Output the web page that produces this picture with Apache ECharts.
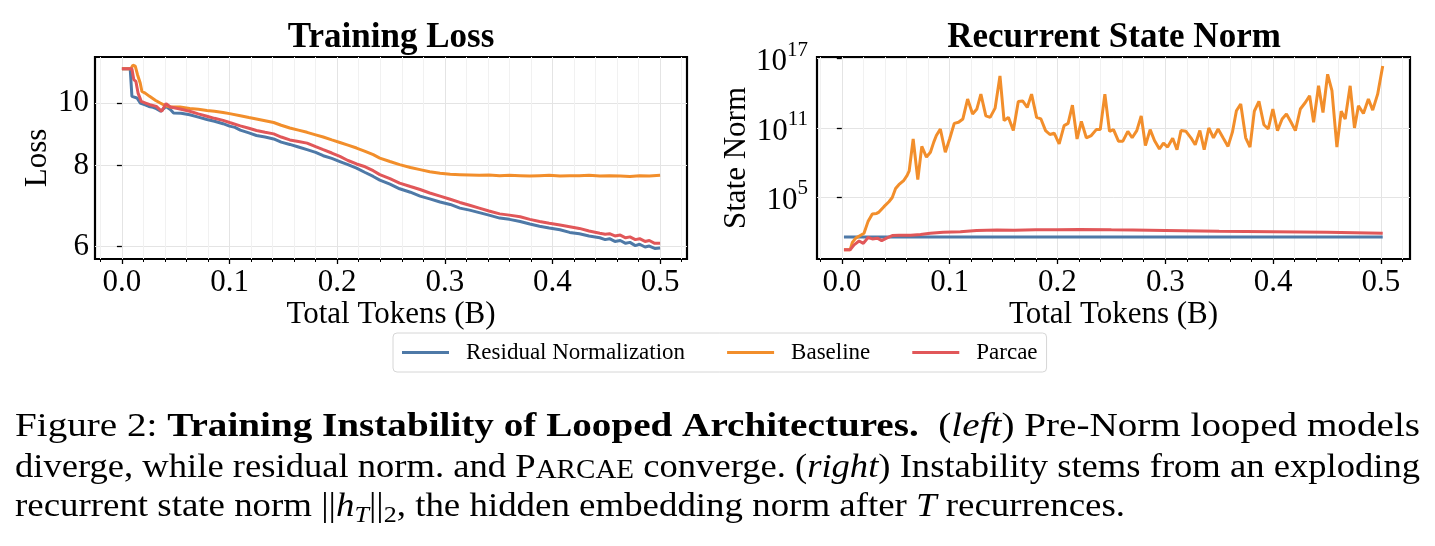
<!DOCTYPE html>
<html><head><meta charset="utf-8">
<script src="https://cdn.jsdelivr.net/npm/echarts@6/dist/echarts.min.js"></script>
<style>html,body{margin:0;padding:0;background:#fff}#c{width:1435px;height:546px}</style>
</head><body><div id="c"></div>
<script>
// ---------------- data ----------------
const seriesNames = ['Residual Normalization', 'Baseline', 'Parcae'];
const xTickValues = [0, 0.1, 0.2, 0.3, 0.4, 0.5];
const xMinorTickValues = [-0.02, 0.02, 0.04, 0.06, 0.08, 0.12, 0.14, 0.16, 0.18, 0.22, 0.24, 0.26, 0.28, 0.32, 0.34, 0.36, 0.38, 0.42, 0.44, 0.46, 0.48, 0.52];
const lossTickValues = [6, 8, 10];
const normTickValues = [1e5, 1e11, 1e17];

// Training loss (left)
const lossResidualTokens = [0, 0.0077, 0.0093, 0.014, 0.017, 0.021, 0.025, 0.029, 0.032, 0.036, 0.041, 0.045, 0.048, 0.055, 0.063, 0.071, 0.079, 0.086, 0.094, 0.1, 0.105, 0.11, 0.118, 0.125, 0.133, 0.141, 0.148, 0.156, 0.164, 0.172, 0.18, 0.187, 0.195, 0.2025, 0.21, 0.218, 0.226, 0.2335, 0.2396, 0.249, 0.258, 0.268, 0.277, 0.286, 0.2956, 0.305, 0.314, 0.323, 0.332, 0.341, 0.351, 0.36, 0.37, 0.379, 0.388, 0.397, 0.407, 0.416, 0.425, 0.434, 0.444, 0.449, 0.453, 0.458, 0.463, 0.468, 0.472, 0.477, 0.481, 0.486, 0.49, 0.495, 0.5];
const lossResidual = [11.30, 11.30, 10.24, 10.18, 10.00, 9.94, 9.88, 9.85, 9.80, 9.71, 9.88, 9.77, 9.65, 9.64, 9.59, 9.51, 9.43, 9.37, 9.29, 9.21, 9.17, 9.08, 8.99, 8.91, 8.86, 8.80, 8.70, 8.63, 8.55, 8.47, 8.39, 8.29, 8.21, 8.12, 8.03, 7.93, 7.81, 7.70, 7.60, 7.49, 7.37, 7.28, 7.18, 7.11, 7.03, 6.97, 6.88, 6.83, 6.77, 6.71, 6.64, 6.61, 6.56, 6.50, 6.45, 6.41, 6.37, 6.31, 6.28, 6.23, 6.19, 6.15, 6.17, 6.11, 6.13, 6.07, 6.09, 6.02, 6.05, 5.99, 6.01, 5.96, 5.97];

const lossBaselineTokens = [0, 0.0083, 0.0102, 0.0124, 0.0145, 0.017, 0.0186, 0.0216, 0.0257, 0.031, 0.0356, 0.0402, 0.045, 0.054, 0.063, 0.071, 0.079, 0.086, 0.094, 0.1, 0.11, 0.118, 0.125, 0.133, 0.141, 0.148, 0.156, 0.164, 0.172, 0.18, 0.187, 0.195, 0.2025, 0.21, 0.218, 0.226, 0.2335, 0.2396, 0.249, 0.258, 0.268, 0.277, 0.286, 0.2956, 0.305, 0.314, 0.323, 0.332, 0.341, 0.351, 0.36, 0.37, 0.379, 0.388, 0.397, 0.407, 0.416, 0.425, 0.434, 0.444, 0.453, 0.463, 0.472, 0.481, 0.49, 0.5];
const lossBaseline = [11.30, 11.30, 11.44, 11.40, 11.06, 10.74, 10.42, 10.36, 10.24, 10.10, 10.00, 9.91, 9.86, 9.86, 9.81, 9.78, 9.74, 9.71, 9.67, 9.63, 9.56, 9.50, 9.45, 9.39, 9.33, 9.24, 9.15, 9.08, 9.01, 8.93, 8.86, 8.77, 8.69, 8.61, 8.52, 8.42, 8.32, 8.22, 8.12, 8.03, 7.95, 7.89, 7.83, 7.79, 7.76, 7.75, 7.74, 7.73, 7.74, 7.72, 7.73, 7.72, 7.71, 7.72, 7.73, 7.71, 7.72, 7.72, 7.73, 7.71, 7.72, 7.71, 7.70, 7.72, 7.71, 7.73];

const lossParcaeTokens = [0, 0.0093, 0.011, 0.013, 0.015, 0.018, 0.022, 0.026, 0.032, 0.037, 0.041, 0.045, 0.054, 0.063, 0.071, 0.079, 0.086, 0.094, 0.1, 0.11, 0.118, 0.125, 0.133, 0.141, 0.148, 0.156, 0.164, 0.172, 0.18, 0.187, 0.195, 0.2025, 0.21, 0.218, 0.226, 0.2335, 0.2396, 0.249, 0.258, 0.268, 0.277, 0.286, 0.2956, 0.305, 0.314, 0.323, 0.332, 0.341, 0.351, 0.36, 0.37, 0.379, 0.388, 0.397, 0.407, 0.416, 0.425, 0.434, 0.444, 0.449, 0.453, 0.458, 0.463, 0.468, 0.472, 0.477, 0.481, 0.486, 0.49, 0.495, 0.5];
const lossParcae = [11.30, 11.30, 10.87, 10.80, 10.36, 10.06, 10.00, 9.94, 9.88, 9.71, 9.98, 9.86, 9.79, 9.71, 9.62, 9.54, 9.47, 9.40, 9.33, 9.22, 9.14, 9.07, 9.01, 8.96, 8.86, 8.77, 8.72, 8.67, 8.56, 8.47, 8.37, 8.27, 8.15, 8.05, 7.97, 7.86, 7.75, 7.64, 7.52, 7.43, 7.35, 7.26, 7.18, 7.10, 7.02, 6.95, 6.88, 6.81, 6.74, 6.71, 6.67, 6.61, 6.56, 6.52, 6.48, 6.44, 6.40, 6.34, 6.29, 6.27, 6.28, 6.23, 6.25, 6.19, 6.21, 6.15, 6.17, 6.11, 6.13, 6.07, 6.07];

// Recurrent state norm (right)
const normResidualTokens = [0.002, 0.1, 0.2, 0.3, 0.4, 0.5017];
const normResidual = [35, 35, 35, 35, 35, 35];

const normBaselineTokens = [0.002, 0.0077, 0.0098, 0.0129, 0.0175, 0.0206, 0.0243, 0.0283, 0.0323, 0.0345, 0.0391, 0.0437, 0.0468, 0.0499, 0.0529, 0.0576, 0.0606, 0.0625, 0.0662, 0.0705, 0.0742, 0.0785, 0.0822, 0.0853, 0.0877, 0.0914, 0.0960, 0.1000, 0.1043, 0.1083, 0.1123, 0.1167, 0.1213, 0.1253, 0.1290, 0.1336, 0.1376, 0.1422, 0.1467, 0.1505, 0.1545, 0.1591, 0.1637, 0.1677, 0.1720, 0.1760, 0.1807, 0.1847, 0.1890, 0.1930, 0.1970, 0.2016, 0.2062, 0.2099, 0.2139, 0.2182, 0.2222, 0.2268, 0.2314, 0.2360, 0.2397, 0.2440, 0.2483, 0.2520, 0.2566, 0.2607, 0.2653, 0.2693, 0.2736, 0.2777, 0.2816, 0.2860, 0.2900, 0.2946, 0.2983, 0.3022, 0.3069, 0.3109, 0.3146, 0.3192, 0.3238, 0.3278, 0.3321, 0.3361, 0.3404, 0.3447, 0.3490, 0.3536, 0.3582, 0.3623, 0.3660, 0.3700, 0.3746, 0.3786, 0.3826, 0.3869, 0.3915, 0.3955, 0.3998, 0.4041, 0.4084, 0.4124, 0.4167, 0.4207, 0.4253, 0.4299, 0.4339, 0.4376, 0.4422, 0.4463, 0.4506, 0.4546, 0.4592, 0.4632, 0.4669, 0.4715, 0.4755, 0.4792, 0.4838, 0.4884, 0.4924, 0.4970, 0.5017];
const normBaseline = [2.7, 2.7, 12, 28, 50, 74, 760, 3.5e3, 3.9e3, 5.1e3, 1.5e4, 4.0e4, 9.3e4, 5.6e5, 1.2e6, 2.9e6, 7.8e6, 1.9e7, 1.1e10, 3.3e6, 2.5e9, 3.0e8, 7.9e8, 5.9e9, 2.2e10, 8.1e10, 7.9e8, 1.1e10, 2.5e11, 3.1e11, 6.0e11, 3.2e13, 1.6e12, 4.4e12, 8.5e13, 1.1e12, 8.3e11, 5.2e12, 3.2e15, 4.3e11, 8.3e11, 5.9e10, 2.0e13, 2.2e13, 6.0e12, 8.5e13, 8.3e11, 6.0e11, 5.9e10, 2.7e10, 3.5e10, 4.2e9, 1.6e11, 2.5e11, 9.5e12, 1.1e10, 3.7e11, 1.4e10, 2.2e10, 7.2e10, 7.2e10, 8.5e13, 5.1e10, 7.2e10, 7.1e9, 7.1e9, 5.1e10, 1.4e10, 5.9e10, 1.1e12, 3.0e9, 7.2e10, 8.1e9, 1.5e9, 4.8e9, 2.2e9, 1.3e10, 1.3e9, 5.9e10, 5.1e10, 1.4e10, 3.5e9, 5.9e10, 1.3e9, 1.0e11, 1.4e10, 8.1e10, 1.4e10, 2.5e9, 4.3e10, 3.1e12, 1.2e13, 1.4e10, 2.2e9, 2.8e12, 2.0e13, 1.9e11, 8.1e10, 4.4e12, 5.9e10, 6.0e11, 1.6e12, 3.1e11, 5.9e10, 4.4e12, 1.6e13, 6.2e13, 3.1e11, 4.5e14, 2.2e12, 4.5e15, 1.7e14, 2.2e9, 2.8e12, 6.0e11, 4.5e14, 1.0e11, 8.3e12, 1.8e12, 3.2e13, 3.5e12, 8.5e13, 2.3e16];

const normParcaeTokens = [0.002, 0.0077, 0.0114, 0.016, 0.020, 0.0243, 0.0283, 0.033, 0.037, 0.0415, 0.0468, 0.053, 0.064, 0.073, 0.082, 0.094, 0.11, 0.125, 0.144, 0.16, 0.18, 0.2, 0.22, 0.25, 0.27, 0.3, 0.35, 0.4, 0.45, 0.5017];
const normParcae = [2.7, 2.7, 7.4, 16, 10, 32, 24, 28, 17, 28, 47, 50, 50, 58, 74, 91, 102, 126, 145, 138, 147, 151, 155, 148, 145, 132, 112, 100, 89, 76];

// ---------------- styling ----------------
const SERIF = 'Liberation Serif';
const COLORS = ['#4E79A7', '#F28E2B', '#E15759'];
const FS = 31;
const zip = (xs, ys) => xs.map((x, i) => [x, ys[i]]);

const grids = [
  { left: 95, top: 57, width: 592, height: 202 },
  { left: 817, top: 57, width: 593, height: 202 }
];
const xRanges = [[-0.025, 0.525], [-0.023, 0.527]];

function xAxesFor(gi) {
  const [mn, mx] = xRanges[gi];
  return [
    {
      gridIndex: gi, type: 'value', min: mn, max: mx, position: 'bottom',
      axisLine: { show: false },
      axisTick: { show: true, customValues: xTickValues, length: 5, lineStyle: { color: '#000', width: 1.3 } },
      axisLabel: { customValues: xTickValues, formatter: v => v.toFixed(1), fontFamily: SERIF, fontSize: FS, color: '#000', margin: 8 },
      splitLine: { show: true, lineStyle: { color: '#e4e4e4', width: 1 } },
      name: 'Total Tokens (B)', nameLocation: 'middle', nameGap: 38,
      nameTextStyle: { fontFamily: SERIF, fontSize: FS, color: '#000' }
    },
    {
      gridIndex: gi, type: 'value', min: mn, max: mx, position: 'bottom',
      axisLine: { show: false },
      axisLabel: { show: false },
      axisTick: { show: true, customValues: xMinorTickValues, length: 3, lineStyle: { color: '#000', width: 1 } },
      splitLine: { show: true, lineStyle: { color: '#f1f1f1', width: 1 } }
    }
  ];
}

const lineSeries = (name, idx, gi, data) => ({
  name, type: 'line', xAxisIndex: gi * 2, yAxisIndex: gi,
  data, symbol: 'none', showSymbol: false, z: 2 + idx,
  lineStyle: { color: COLORS[idx], width: 3 }, itemStyle: { color: COLORS[idx] },
  animation: false
});

const option = {
  animation: false,
  backgroundColor: '#fff',
  grid: grids.map(g => Object.assign({ show: true, borderColor: '#000', borderWidth: 2.2, backgroundColor: 'transparent', containLabel: false, outerBoundsMode: 'none' }, g)),
  legend: {
    data: seriesNames, left: 393, top: 333, icon: 'rect', itemWidth: 47, itemHeight: 3, itemGap: 42,
    selectedMode: false, padding: [8, 9, 8, 9], borderColor: '#d6d6d6', borderWidth: 1, borderRadius: 4,
    textStyle: { fontFamily: SERIF, fontSize: 23, color: '#000', padding: [0, 0, 0, 12] }
  },
  xAxis: [...xAxesFor(0), ...xAxesFor(1)],
  yAxis: [
    {
      gridIndex: 0, type: 'log', logBase: 10, min: 5.74, max: 11.78,
      axisLine: { show: false },
      axisTick: { show: true, customValues: lossTickValues, length: 5, lineStyle: { color: '#000', width: 1.3 } },
      axisLabel: { customValues: lossTickValues, formatter: v => String(Math.round(v)), fontFamily: SERIF, fontSize: FS, color: '#000', margin: 6 },
      splitLine: { show: true, lineStyle: { color: '#e4e4e4', width: 1 } },
      name: 'Loss', nameLocation: 'middle', nameGap: 42, nameRotate: 90,
      nameTextStyle: { fontFamily: SERIF, fontSize: FS, color: '#000' }
    },
    {
      gridIndex: 1, type: 'log', logBase: 10, min: 0.4365, max: 1.41e17,
      axisLine: { show: false },
      axisTick: { show: true, customValues: normTickValues, length: 5, lineStyle: { color: '#000', width: 1.3 } },
      axisLabel: {
        customValues: normTickValues,
        formatter: v => '{b|10}{s|' + Math.round(Math.log10(v)) + '}',
        margin: 9,
        rich: {
          b: { fontFamily: SERIF, fontSize: FS, color: '#000', verticalAlign: 'bottom' },
          s: { fontFamily: SERIF, fontSize: 21, color: '#000', verticalAlign: 'bottom', padding: [0, 0, 17, 0] }
        }
      },
      splitLine: { show: true, lineStyle: { color: '#e4e4e4', width: 1 } },
      name: 'State Norm', nameLocation: 'middle', nameGap: 49, nameRotate: 90,
      nameTextStyle: { fontFamily: SERIF, fontSize: FS, color: '#000' }
    }
  ],
  series: [
    lineSeries(seriesNames[0], 0, 0, zip(lossResidualTokens, lossResidual)),
    lineSeries(seriesNames[1], 1, 0, zip(lossBaselineTokens, lossBaseline)),
    lineSeries(seriesNames[2], 2, 0, zip(lossParcaeTokens, lossParcae)),
    lineSeries(seriesNames[0], 0, 1, zip(normResidualTokens, normResidual)),
    lineSeries(seriesNames[1], 1, 1, zip(normBaselineTokens, normBaseline)),
    lineSeries(seriesNames[2], 2, 1, zip(normParcaeTokens, normParcae))
  ]
};

// ---------------- titles & caption ----------------
const CAP = 34;
const capStyles = {
  n: { fontSize: CAP, fontStyle: 'normal', fontWeight: 'normal', pad: 0 },
  b: { fontSize: CAP, fontStyle: 'normal', fontWeight: 'bold', pad: 0 },
  i: { fontSize: CAP, fontStyle: 'italic', fontWeight: 'normal', pad: 0 },
  sc: { fontSize: 27, fontStyle: 'normal', fontWeight: 'normal', pad: 6 },
  sub: { fontSize: 24, fontStyle: 'normal', fontWeight: 'normal', pad: 14 },
  isub: { fontSize: 24, fontStyle: 'italic', fontWeight: 'normal', pad: 14 }
};
const captionLines = [
  { y: 427, width: 1405, segs: [['n', 'Figure 2: '], ['b', 'Training Instability of Looped Architectures.'], ['n', '  ('], ['i', 'left'], ['n', ') Pre-Norm looped models']] },
  { y: 468, width: 1405, segs: [['n', 'diverge, while residual norm. and P'], ['sc', 'ARCAE'], ['n', ' converge. ('], ['i', 'right'], ['n', ') Instability stems from an exploding']] },
  { y: 509, width: 1110, segs: [['n', 'recurrent state norm ||'], ['i', 'h'], ['isub', 'T'], ['n', '||'], ['sub', '2'], ['n', ', the hidden embedding norm after '], ['i', 'T'], ['n', ' recurrences.']] }
];
const mctx = document.createElement('canvas').getContext('2d');
const fontStr = s => `${s.fontStyle} ${s.fontWeight} ${s.fontSize}px "${SERIF}"`;
const rich = {};
Object.keys(capStyles).forEach(k => {
  const s = capStyles[k];
  rich[k] = { fontFamily: SERIF, fontSize: s.fontSize, fontStyle: s.fontStyle, fontWeight: s.fontWeight, fill: '#000', verticalAlign: 'top', padding: [s.pad, 0, 0, 0] };
});
const graphics = [
  { type: 'text', x: 391, y: 38, style: { text: 'Training Loss', font: `bold 35px "${SERIF}"`, fill: '#000', align: 'center', verticalAlign: 'middle' } },
  { type: 'text', x: 1114, y: 38, style: { text: 'Recurrent State Norm', font: `bold 35px "${SERIF}"`, fill: '#000', align: 'center', verticalAlign: 'middle' } }
];
captionLines.forEach(line => {
  let w = 0;
  line.segs.forEach(([k, t]) => { mctx.font = fontStr(capStyles[k]); w += mctx.measureText(t).width; });
  const text = line.segs.map(([k, t]) => `{${k}|${t}}`).join('');
  graphics.push({
    type: 'text', x: 15, y: line.y, scaleX: line.width / w, scaleY: 1,
    style: { text, rich, fill: '#000', font: `${CAP}px "${SERIF}"`, align: 'left', verticalAlign: 'middle' }
  });
});
option.graphic = graphics;

const chart = echarts.init(document.getElementById('c'), null, { renderer: 'canvas' });
chart.setOption(option);
</script></body></html>
